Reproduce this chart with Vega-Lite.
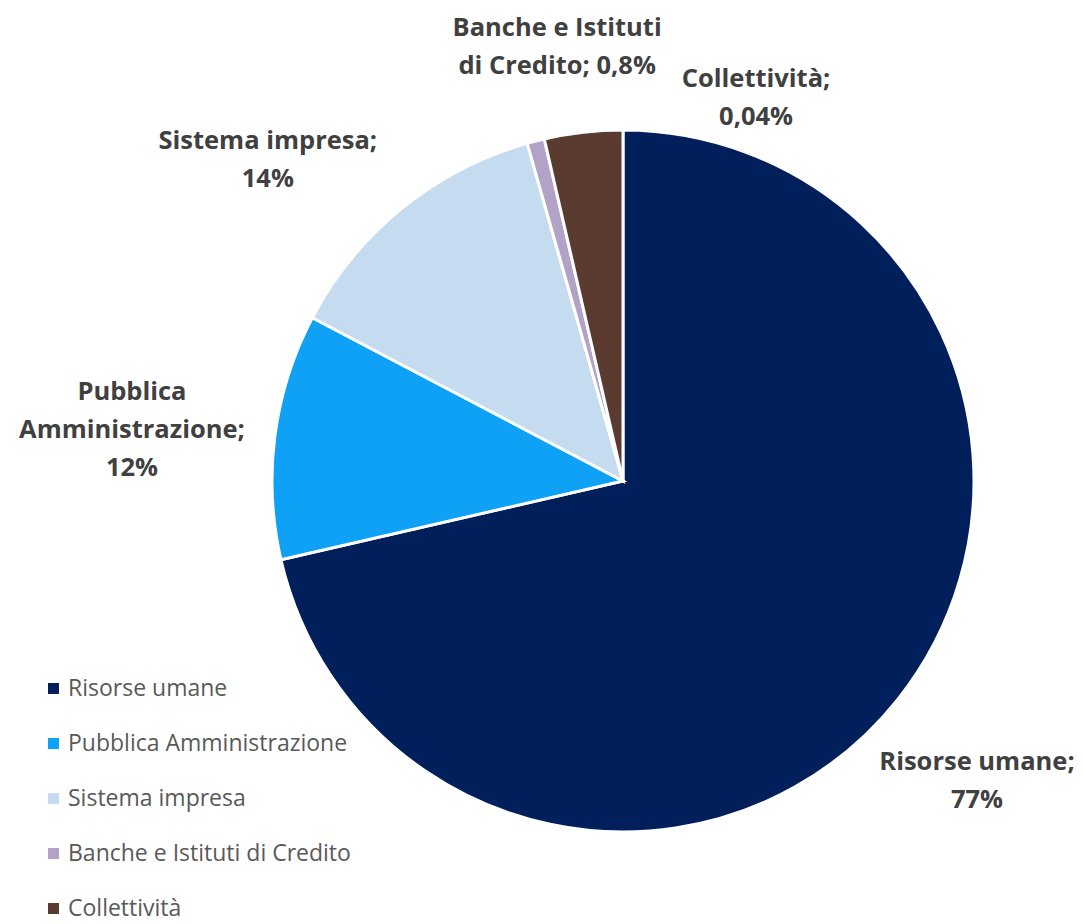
{
  "$schema": "https://vega.github.io/schema/vega-lite/v6.json",
  "width": 702,
  "height": 702,
  "autosize": {"type": "none"},
  "padding": {"left": 272, "top": 130, "right": 109, "bottom": 92},
  "background": "white",
  "config": {"view": {"stroke": null}, "font": "Open Sans"},
  "data": {
    "values": [
      {"cat": "Risorse umane", "v": 71.4, "ord": 1, "label": "Risorse umane;\n77%"},
      {"cat": "Pubblica Amministrazione", "v": 11.3, "ord": 2, "label": "Pubblica\nAmministrazione;\n12%"},
      {"cat": "Sistema impresa", "v": 12.9, "ord": 3, "label": "Sistema impresa;\n14%"},
      {"cat": "Banche e Istituti di Credito", "v": 0.8, "ord": 4, "label": "Banche e Istituti\ndi Credito; 0,8%"},
      {"cat": "Collettività", "v": 3.6, "ord": 5, "label": "Collettività;\n0,04%"}
    ]
  },
  "encoding": {
    "theta": {"field": "v", "type": "quantitative", "stack": true},
    "order": {"field": "ord", "type": "quantitative"}
  },
  "layer": [
    {
      "mark": {"type": "arc", "stroke": "white", "strokeWidth": 3},
      "encoding": {
        "color": {
          "field": "cat",
          "type": "nominal",
          "scale": {
            "domain": ["Risorse umane", "Pubblica Amministrazione", "Sistema impresa", "Banche e Istituti di Credito", "Collettività"],
            "range": ["#001F5B", "#0EA1F5", "#C5DBEF", "#B3A2C7", "#5B3A30"]
          },
          "sort": ["Risorse umane", "Pubblica Amministrazione", "Sistema impresa", "Banche e Istituti di Credito", "Collettività"],
          "legend": {
            "title": null,
            "orient": "none",
            "legendX": -230,
            "legendY": 547,
            "symbolType": "square",
            "symbolSize": 121,
            "symbolStrokeWidth": 0,
            "labelFontSize": 23,
            "labelColor": "#595959",
            "labelFont": "Open Sans",
            "labelLimit": 0,
            "rowPadding": 31,
            "labelOffset": 3
          }
        }
      }
    },
    {
      "mark": {
        "type": "text",
        "radius": 478,
        "fontSize": 25.5,
        "fontWeight": "bold",
        "font": "Open Sans",
        "color": "#404040",
        "lineBreak": "\n",
        "lineHeight": 38,
        "align": "center",
        "baseline": "middle",
        "dx": {"expr": "datum.cat === 'Pubblica Amministrazione' ? -17 : datum.cat === 'Sistema impresa' ? -54 : datum.cat === 'Banche e Istituti di Credito' ? 53 : datum.cat === 'Collettività' ? 187 : -20"},
        "dy": {"expr": "datum.cat === 'Pubblica Amministrazione' ? -28 : datum.cat === 'Sistema impresa' ? 31 : datum.cat === 'Banche e Istituti di Credito' ? 10 : datum.cat === 'Collettività' ? 73 : -17"}
      },
      "encoding": {
        "text": {"field": "label", "type": "nominal"}
      }
    }
  ]
}
